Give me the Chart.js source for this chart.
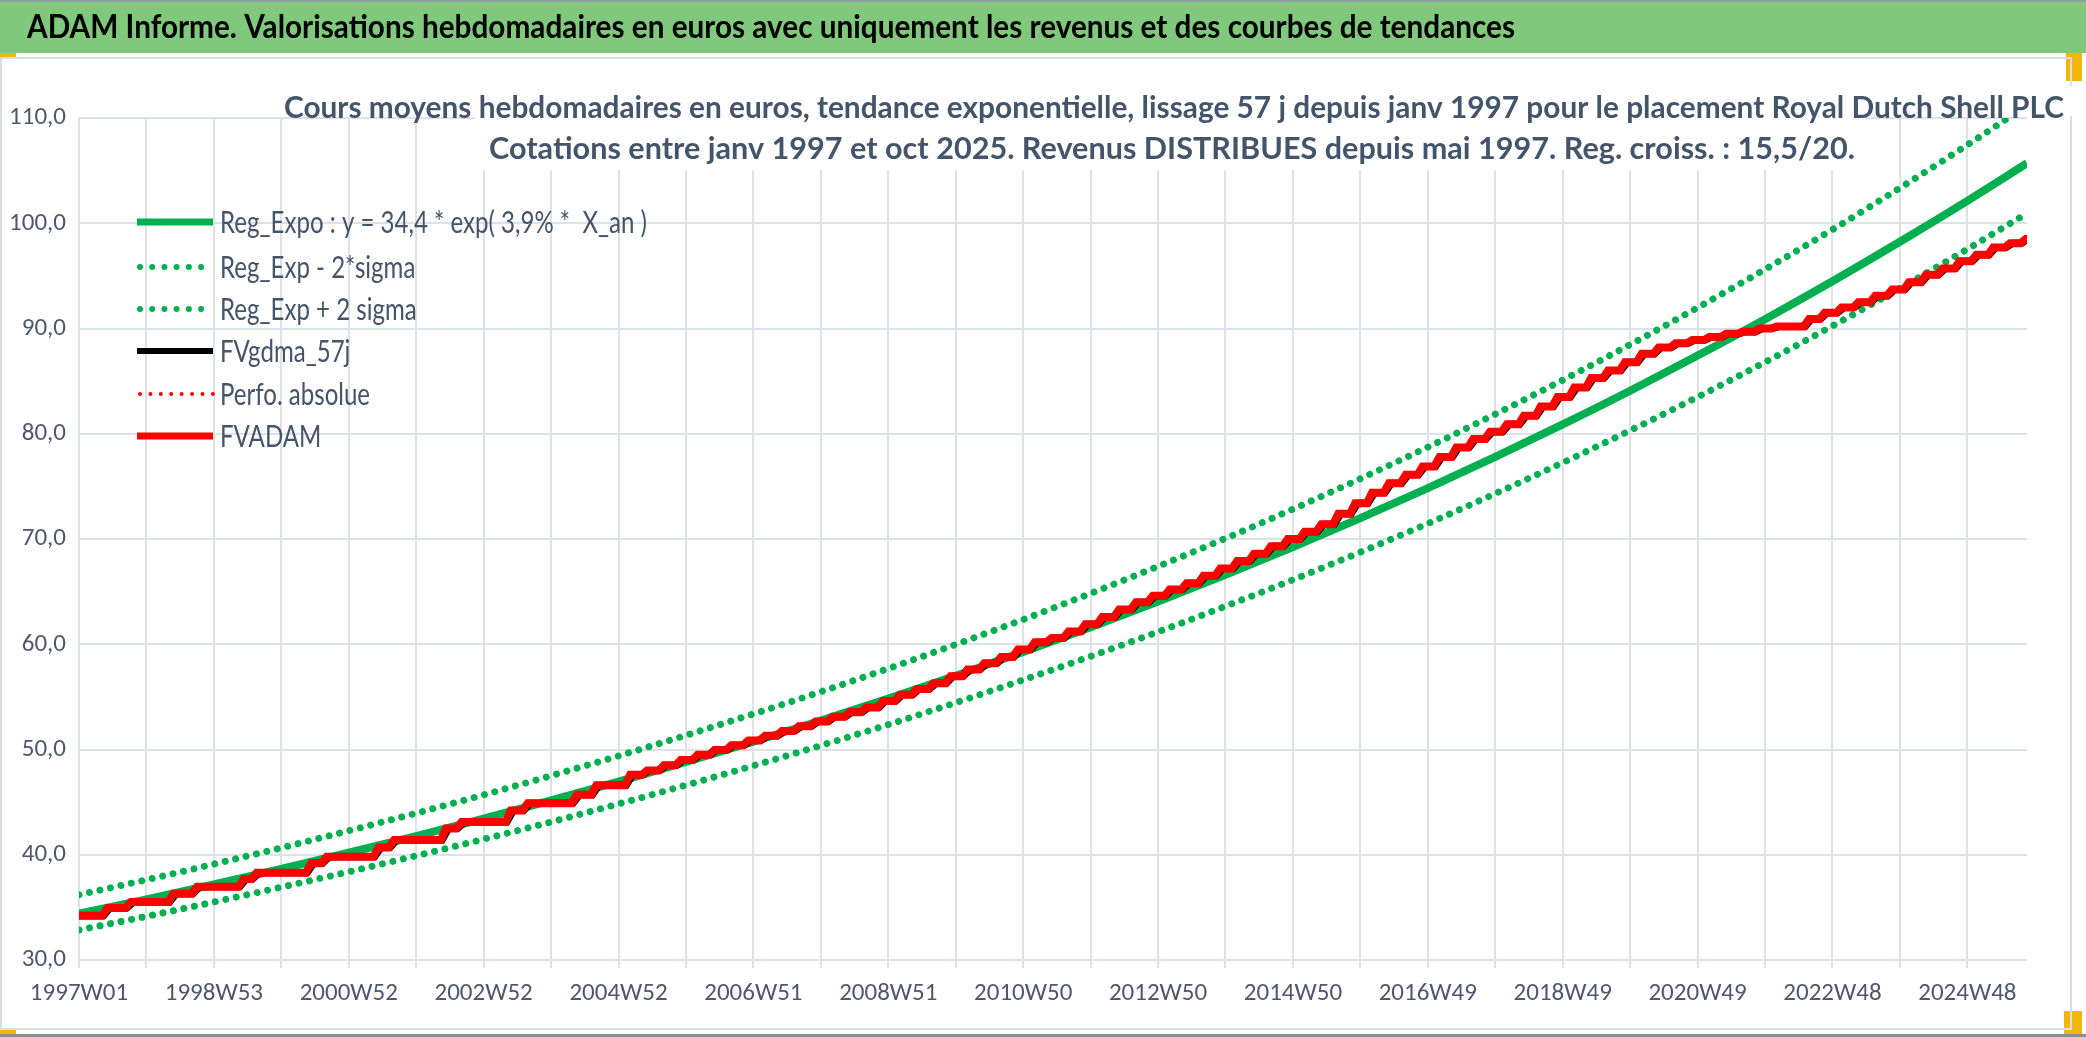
<!DOCTYPE html>
<html>
<head>
<meta charset="utf-8">
<title>ADAM Informe - Royal Dutch Shell PLC</title>
<script src="https://cdn.jsdelivr.net/npm/chart.js@4.4.1/dist/chart.umd.min.js"></script>
<style>
html, body { margin: 0; padding: 0; background: #fff; }
#wrap { position: relative; width: 2086px; height: 1037px; }
canvas { display: block; }
</style>
</head>
<body>
<div id="wrap"><canvas id="chart"></canvas></div>
<script>
// x axis: week index since 1997W01, one grid line every 52 weeks, a label every 104
var xLabels = ['1997W01', '1998W53', '2000W52', '2002W52', '2004W52', '2006W51', '2008W51',
    '2010W50', '2012W50', '2014W50', '2016W49', '2018W49', '2020W49', '2022W48', '2024W48'];
var lastWeek = 1502;

// trend curves read at each yearly grid line (and at the last week)
var trendWeeks = [0, 52, 104, 156, 208, 260, 312, 364, 416, 468, 520, 572, 624, 676, 728,
    780, 832, 884, 936, 988, 1040, 1092, 1144, 1196, 1248, 1300, 1352, 1404, 1456, 1502];
var regExpo = [34.4, 35.76, 37.18, 38.65, 40.19, 41.78, 43.43, 45.16, 46.95, 48.81, 50.74, 52.75,
    54.84, 57.01, 59.27, 61.62, 64.07, 66.6, 69.24, 71.99, 74.84, 77.81, 80.89, 84.09, 87.43,
    90.89, 94.49, 98.24, 102.13, 105.7];
var regLow = [32.85, 34.15, 35.51, 36.92, 38.38, 39.9, 41.48, 43.12, 44.83, 46.61, 48.46, 50.38,
    52.37, 54.45, 56.61, 58.85, 61.18, 63.61, 66.13, 68.75, 71.47, 74.31, 77.25, 80.31, 83.49,
    86.8, 90.24, 93.82, 97.54, 100.95];
var regHigh = [36.2, 37.62, 39.11, 40.66, 42.28, 43.95, 45.69, 47.51, 49.39, 51.35, 53.38, 55.49,
    57.69, 59.98, 62.35, 64.83, 67.4, 70.06, 72.84, 75.73, 78.73, 81.86, 85.1, 88.47, 91.98,
    95.62, 99.4, 103.35, 107.44, 111.2];

// FVADAM: week of each step and level reached after it
var fvWeeks = [0, 18, 36, 69, 87, 123, 133, 175, 187, 227, 239, 279, 291, 329, 342, 380, 395,
    421, 434, 447, 460, 473, 486, 499, 512, 525, 538, 551, 564, 577, 590, 603, 616, 629, 642,
    655, 668, 681, 694, 707, 720, 733, 746, 759, 772, 785, 798, 811, 824, 837, 850, 863, 876,
    889, 902, 915, 928, 941, 954, 967, 980, 993, 1006, 1019, 1032, 1045, 1058, 1071, 1084, 1097,
    1110, 1123, 1136, 1149, 1162, 1175, 1188, 1201, 1214, 1227, 1240, 1253, 1266, 1279, 1292,
    1305, 1330, 1342, 1355, 1368, 1381, 1394, 1407, 1420, 1433, 1446, 1459, 1472, 1485, 1497];
var fvLevels = [34.2, 34.95, 35.5, 36.3, 36.95, 37.7, 38.3, 39.2, 39.8, 40.7, 41.4, 42.5, 43.1,
    44.2, 44.9, 45.7, 46.6, 47.6, 48.0, 48.5, 49.0, 49.5, 49.95, 50.4, 50.85, 51.3, 51.75, 52.2,
    52.65, 53.1, 53.55, 54.0, 54.6, 55.2, 55.75, 56.3, 56.95, 57.6, 58.2, 58.8, 59.5, 60.2, 60.6,
    61.2, 61.9, 62.6, 63.3, 64.0, 64.6, 65.2, 65.8, 66.5, 67.2, 67.9, 68.6, 69.3, 70.0, 70.7,
    71.4, 72.4, 73.4, 74.4, 75.3, 76.1, 76.9, 77.8, 78.7, 79.5, 80.2, 80.9, 81.7, 82.6, 83.5,
    84.4, 85.3, 86.0, 86.8, 87.6, 88.2, 88.6, 88.9, 89.2, 89.5, 89.7, 90.0, 90.2, 90.9, 91.5,
    92.0, 92.5, 93.1, 93.7, 94.4, 95.1, 95.7, 96.4, 97.0, 97.7, 98.1, 98.5];

var legendNames = ['Reg_Expo : y = 34,4 * exp( 3,9% *  X_an )', 'Reg_Exp - 2*sigma',
    'Reg_Exp + 2 sigma', 'FVgdma_57j', 'Perfo. absolue', 'FVADAM'];

var GREEN = '#00B050';
var RED = '#FF0000';
var TEXT = '#44546A';

function hasFont(name) {
    var c = document.createElement('canvas').getContext('2d');
    var t = '1997W01 mmmWWiil 110,0';
    c.font = '40px monospace';
    var a = c.measureText(t).width;
    c.font = '40px "' + name + '", monospace';
    return c.measureText(t).width !== a;
}
var tickFont = { family: 'Lato', size: 21 };
if (hasFont('Carlito')) tickFont = { family: 'Carlito', size: 25 };
else if (hasFont('Liberation Sans Narrow')) tickFont = { family: 'Liberation Sans Narrow', size: 23 };

function points(xs, ys) {
    return ys.map(function (v, i) { return { x: xs[i], y: v }; });
}

// step line: keep previous level until the step week, then climb over a few weeks
function stepPoints(ramp, delay) {
    var pts = [{ x: 0, y: fvLevels[0] }];
    for (var i = 1; i < fvWeeks.length; i++) {
        pts.push({ x: fvWeeks[i] + delay, y: fvLevels[i - 1] });
        pts.push({ x: fvWeeks[i] + delay + ramp, y: fvLevels[i] });
    }
    pts.push({ x: lastWeek, y: fvLevels[fvLevels.length - 1] });
    return pts;
}

function fitText(ctx, txt, x, y, w, font, color, align) {
    ctx.save();
    ctx.font = font;
    var s = w / ctx.measureText(txt).width;
    ctx.translate(x, y);
    ctx.scale(s, 1);
    ctx.fillStyle = color;
    ctx.textAlign = align;
    ctx.textBaseline = 'middle';
    ctx.fillText(txt, 0, 0);
    ctx.restore();
}

var decor = {
    id: 'decor',
    beforeDraw: function (chart) {
        var ctx = chart.ctx;
        ctx.save();
        ctx.fillStyle = '#fff';
        ctx.fillRect(0, 0, chart.width, chart.height);
        // header bar
        ctx.fillStyle = '#9a9a9a';
        ctx.fillRect(0, 0, chart.width, 2);
        ctx.fillStyle = '#80C87C';
        ctx.fillRect(0, 2, chart.width, 51);
        ctx.fillStyle = '#F2B705';
        ctx.fillRect(0, 53, 16, 6);
        ctx.fillRect(2066, 53, 16, 28);
        ctx.fillRect(2064, 1011, 18, 24);
        ctx.fillRect(0, 1029, 16, 5);
        // chart frame
        ctx.strokeStyle = '#DADDE3';
        ctx.lineWidth = 2;
        ctx.strokeRect(1, 58, 2070, 971);
        ctx.fillStyle = '#8c8c8c';
        ctx.fillRect(0, 1034, chart.width, 3);
        ctx.restore();
        fitText(ctx, 'ADAM Informe. Valorisations hebdomadaires en euros avec uniquement les revenus et des courbes de tendances',
            27, 28, 1488, 'bold 32px Lato', '#000', 'left');
    },
    afterDraw: function (chart) {
        var ctx = chart.ctx;
        ctx.save();
        ctx.fillStyle = '#fff';
        ctx.fillRect(275, 86, 1800, 30);
        ctx.fillRect(475, 116, 1390, 54);
        ctx.restore();
        fitText(ctx, 'Cours moyens hebdomadaires en euros, tendance exponentielle, lissage 57 j depuis janv 1997 pour le placement Royal Dutch Shell PLC',
            1174, 108, 1780, 'bold 30px Lato', TEXT, 'center');
        fitText(ctx, 'Cotations entre janv 1997 et oct 2025. Revenus DISTRIBUES depuis mai 1997. Reg. croiss. : 15,5/20.',
            1172, 149, 1366, 'bold 30px Lato', TEXT, 'center');

        // legend, in dataset order
        var rows = [222, 267, 309, 351, 394, 436];
        ctx.save();
        ctx.font = '30px Lato';
        var sx = 427 / ctx.measureText(legendNames[0]).width;
        chart.data.datasets.forEach(function (ds, i) {
            var y = rows[i];
            ctx.save();
            ctx.strokeStyle = ds.borderColor;
            ctx.lineWidth = ds.legendWidth;
            ctx.lineCap = ds.borderDash ? 'round' : 'butt';
            ctx.setLineDash(ds.borderDash ? ds.legendDash : []);
            ctx.beginPath();
            ctx.moveTo(ds.borderDash ? 140 : 137, y);
            ctx.lineTo(213, y);
            ctx.stroke();
            ctx.restore();
            ctx.save();
            ctx.translate(220, y);
            ctx.scale(sx, 1);
            ctx.fillStyle = TEXT;
            ctx.textBaseline = 'middle';
            ctx.fillText(ds.label, 0, 1);
            ctx.restore();
        });
        ctx.restore();
    }
};

new Chart(document.getElementById('chart'), {
    type: 'line',
    data: {
        datasets: [{
            label: legendNames[0],
            data: points(trendWeeks, regExpo),
            borderColor: GREEN,
            borderWidth: 8,
            legendWidth: 7,
            cubicInterpolationMode: 'monotone',
            order: 3
        }, {
            label: legendNames[1],
            data: points(trendWeeks, regLow),
            borderColor: GREEN,
            borderWidth: 7,
            borderDash: [0.01, 10.7],
            borderCapStyle: 'round',
            legendWidth: 6,
            legendDash: [0.01, 12.2],
            cubicInterpolationMode: 'monotone',
            order: 4
        }, {
            label: legendNames[2],
            data: points(trendWeeks, regHigh),
            borderColor: GREEN,
            borderWidth: 7,
            borderDash: [0.01, 10.7],
            borderCapStyle: 'round',
            legendWidth: 6,
            legendDash: [0.01, 12.2],
            cubicInterpolationMode: 'monotone',
            order: 4
        }, {
            label: legendNames[3],
            data: stepPoints(5, 1),
            borderColor: '#000',
            borderWidth: 7,
            legendWidth: 6,
            order: 2
        }, {
            label: legendNames[4],
            data: stepPoints(4, 0),
            borderColor: RED,
            borderWidth: 4,
            borderDash: [0.01, 9],
            borderCapStyle: 'round',
            legendWidth: 4,
            legendDash: [0.01, 10.4],
            order: 1
        }, {
            label: legendNames[5],
            data: stepPoints(4, 0),
            borderColor: RED,
            borderWidth: 8,
            legendWidth: 7,
            order: 0
        }]
    },
    options: {
        responsive: true,
        maintainAspectRatio: false,
        animation: false,
        parsing: false,
        elements: { point: { radius: 0 }, line: { tension: 0 } },
        layout: { padding: { top: 118, right: 59, bottom: 0, left: 0 } },
        plugins: {
            legend: { display: false },
            title: { display: false },
            tooltip: { enabled: false }
        },
        scales: {
            x: {
                type: 'linear',
                min: 0,
                max: lastWeek,
                border: { display: false },
                grid: { color: '#DDE1E8', lineWidth: 2, tickLength: 8 },
                ticks: {
                    stepSize: 52,
                    autoSkip: false,
                    includeBounds: false,
                    maxRotation: 0,
                    padding: 11,
                    color: '#4F586A',
                    font: tickFont,
                    callback: function (v) { return v % 104 === 0 ? xLabels[v / 104] : ''; }
                },
                afterFit: function (s) { s.height = 77; }
            },
            y: {
                min: 30,
                max: 110,
                border: { display: false },
                grid: { color: '#DDE1E8', lineWidth: 2, drawTicks: false },
                ticks: {
                    stepSize: 10,
                    padding: 13,
                    color: '#4F586A',
                    font: tickFont,
                    callback: function (v) { return v.toFixed(1).replace('.', ','); }
                },
                afterFit: function (s) { s.width = 79; }
            }
        }
    },
    plugins: [decor]
});
</script>
</body>
</html>
